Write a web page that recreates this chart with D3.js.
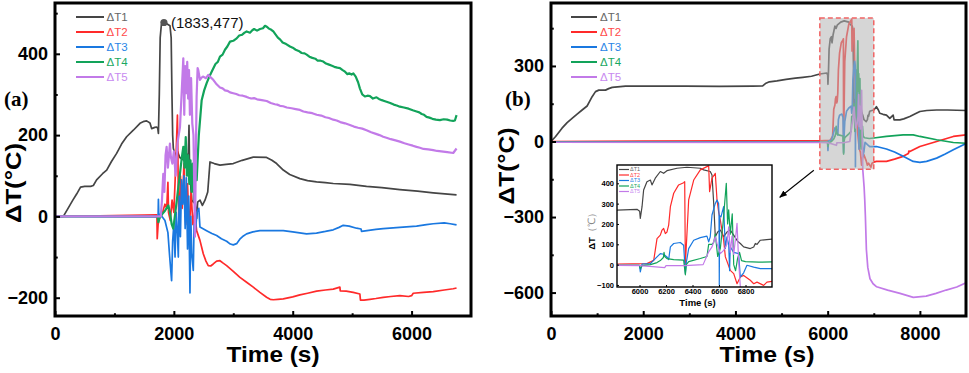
<!DOCTYPE html>
<html><head><meta charset="utf-8">
<script src="https://cdn.jsdelivr.net/npm/d3@7"></script>
<style>body{margin:0;background:#fff}svg{display:block}</style>
</head><body><svg id="c" width="969" height="373"></svg>
<script>
// ---------- data ----------
const seriesNames = ["ΔT1","ΔT2","ΔT3","ΔT4","ΔT5"];
const lineColors  = ["#454545","#ff2a2a","#1a78e0","#12a35a","#c27ae8"];
const textColors  = ["#666666","#ff4a4a","#2a85e6","#1aa862","#c88af0"];

const xTicksA = [0,2000,4000,6000], xMinorA = [1000,3000,5000,7000];
const yTicksA = [-200,0,200,400],   yMinorA = [-100,100,300,500];
const xTicksB = [0,2000,4000,6000,8000], xMinorB = [1000,3000,5000,7000,9000];
const yTicksB = [-600,-300,0,300],  yMinorB = [-450,-150,150,450];
const xTicksIn = [6000,6200,6400,6600,6800];
const yTicksIn = [-100,0,100,200,300,400];

const peakPoint = [1833,477];
const peakLabel = "(1833,477)";
const zoomWindow = {t0:5830, t1:7000, v0:-110, v1:490};

const a_T1 = [[0,0],[140,0],[200,15],[300,40],[364,55],[430,72],[500,74],[600,74],[645,76],[700,90],[800,105],[870,114],[950,135],[1037,155],[1120,178],[1205,196],[1318,212],[1430,229],[1500,234],[1542,235],[1598,230],[1626,216],[1680,219],[1710,220],[1730,216],[1740,204],[1755,300],[1770,440],[1790,472],[1833,477],[1880,474],[1935,469],[1955,439],[1968,300],[1980,200],[1991,168],[2019,151],[2060,160],[2100,145],[2150,140],[2200,150],[2243,154],[2255,224],[2262,145],[2275,95],[2300,40],[2330,35],[2360,32],[2384,-5],[2400,35],[2440,40],[2480,27],[2524,40],[2570,60],[2608,134],[2680,130],[2776,126],[2880,128],[3000,130],[3150,138],[3336,146],[3560,145],[3650,138],[3729,130],[3841,114],[3950,103],[4121,93],[4250,88],[4402,85],[4550,83],[4682,81],[4962,79],[5242,74],[5500,71],[5803,66],[6100,62],[6364,58],[6757,53]];
const a_T2 = [[0,0],[500,1],[1000,2],[1500,3],[1715,4],[1720,-55],[1735,-20],[1760,0],[1800,5],[1850,30],[1880,20],[1900,84],[1910,10],[1940,-10],[1970,40],[2000,10],[2030,120],[2060,249],[2075,60],[2090,-42],[2110,100],[2140,20],[2170,130],[2200,-20],[2230,80],[2260,-40],[2290,60],[2320,-20],[2350,10],[2383,-35],[2439,-59],[2495,-92],[2540,-110],[2579,-121],[2620,-122],[2663,-117],[2720,-110],[2776,-109],[2830,-115],[2888,-121],[3000,-135],[3112,-150],[3224,-162],[3336,-174],[3448,-187],[3560,-199],[3620,-204],[3673,-205],[3750,-204],[3841,-203],[4000,-198],[4121,-193],[4250,-189],[4402,-184],[4550,-181],[4682,-179],[4794,-174],[4800,-183],[4900,-184],[5018,-187],[5130,-191],[5140,-206],[5200,-206],[5300,-204],[5400,-202],[5523,-199],[5650,-197],[5803,-195],[5950,-197],[6000,-195],[6028,-189],[6200,-187],[6364,-185],[6550,-181],[6700,-178],[6757,-176]];
const a_T3 = [[0,0],[1700,-1],[1735,-1],[1740,42],[1748,-5],[1760,5],[1800,0],[1850,-10],[1900,-40],[1930,-100],[1962,-158],[1980,-60],[2000,-20],[2020,-100],[2040,10],[2060,-40],[2075,-100],[2090,50],[2110,-50],[2130,90],[2150,30],[2170,100],[2190,-30],[2210,95],[2230,-80],[2250,50],[2271,-188],[2285,0],[2300,-90],[2327,-133],[2340,-20],[2360,-40],[2390,10],[2420,20],[2439,-26],[2551,-35],[2640,-42],[2720,-47],[2800,-55],[2888,-61],[2950,-68],[3000,-70],[3056,-67],[3110,-56],[3170,-48],[3224,-43],[3330,-38],[3448,-35],[3600,-35],[3841,-35],[4000,-38],[4233,-43],[4400,-41],[4550,-37],[4682,-33],[4780,-27],[4850,-22],[4950,-24],[5074,-29],[5150,-31],[5158,-37],[5250,-35],[5400,-32],[5523,-30],[5800,-27],[6084,-24],[6250,-20],[6364,-18],[6550,-16],[6650,-18],[6757,-21]];
const a_T4 = [[0,0],[1730,0],[1739,-14],[1760,-4],[1800,5],[1851,14],[1907,27],[1935,10],[1963,-19],[1990,-30],[2019,3],[2050,40],[2075,72],[2103,105],[2130,140],[2159,171],[2180,120],[2200,195],[2220,100],[2240,150],[2260,80],[2280,138],[2300,60],[2320,130],[2340,40],[2360,105],[2384,89],[2420,200],[2468,286],[2510,310],[2552,328],[2600,345],[2636,356],[2700,375],[2740,380],[2776,393],[2820,398],[2860,410],[2900,418],[2945,430],[3000,432],[3057,438],[3100,445],[3150,447],[3190,452],[3225,455],[3281,452],[3320,458],[3350,461],[3400,457],[3450,461],[3500,463],[3534,469],[3570,466],[3600,462],[3640,459],[3674,455],[3710,448],[3750,440],[3790,435],[3830,428],[3890,424],[3954,418],[4000,415],[4050,410],[4100,407],[4150,402],[4200,401],[4235,398],[4280,393],[4330,390],[4380,388],[4420,383],[4470,383],[4515,381],[4560,376],[4600,374],[4650,371],[4700,368],[4750,366],[4795,365],[4840,360],[4880,356],[4920,350],[4950,352],[4990,349],[5020,352],[5060,344],[5100,330],[5130,315],[5170,300],[5214,295],[5260,297],[5300,296],[5350,290],[5410,293],[5450,289],[5500,286],[5540,284],[5579,282],[5640,279],[5700,275],[5750,273],[5803,270],[5870,268],[5950,265],[6020,261],[6084,258],[6130,256],[6170,252],[6210,250],[6252,245],[6300,243],[6350,240],[6410,238],[6476,237],[6540,239],[6600,238],[6650,236],[6700,235],[6729,236],[6757,249]];
const a_T5 = [[0,0],[1780,0],[1800,40],[1822,105],[1840,60],[1860,150],[1878,171],[1900,120],[1934,179],[1950,146],[1975,130],[2000,160],[2030,100],[2060,180],[2103,220],[2130,300],[2159,389],[2175,250],[2190,370],[2210,303],[2225,380],[2240,290],[2255,360],[2270,250],[2290,340],[2310,229],[2330,200],[2340,100],[2355,-50],[2370,150],[2383,295],[2400,365],[2411,360],[2439,336],[2470,342],[2495,344],[2540,340],[2579,348],[2620,342],[2663,336],[2720,325],[2776,317],[2820,315],[2860,310],[2900,309],[2945,305],[3000,303],[3050,301],[3100,298],[3160,297],[3225,294],[3260,292],[3300,290],[3350,291],[3400,288],[3480,286],[3562,284],[3630,279],[3700,276],[3740,275],[3786,272],[3840,271],[3900,268],[3980,266],[4050,264],[4121,262],[4180,258],[4250,256],[4330,254],[4403,250],[4480,248],[4550,244],[4610,242],[4682,238],[4740,236],[4800,232],[4880,229],[4962,225],[5030,221],[5100,218],[5170,216],[5242,212],[5320,207],[5400,203],[5460,200],[5523,196],[5590,193],[5650,190],[5730,187],[5803,184],[5880,180],[5950,177],[6020,174],[6084,171],[6140,169],[6200,166],[6280,165],[6364,163],[6430,161],[6500,160],[6600,158],[6701,156],[6757,167]];

const b_T1 = [[0,0],[100,20],[239,53],[350,75],[457,92],[560,108],[675,125],[783,141],[840,160],[892,178],[965,198],[1037,204],[1182,204],[1250,210],[1327,215],[1617,220],[2198,220],[2923,220],[3648,219],[4373,220],[4591,221],[4650,230],[4736,237],[4900,241],[5099,247],[5300,252],[5462,255],[5650,259],[5830,268],[5981,272],[6001,263],[6006,227],[6019,285],[6031,367],[6056,408],[6082,416],[6094,392],[6119,425],[6157,458],[6182,449],[6207,462],[6283,474],[6358,479],[6459,474],[6484,466],[6534,458],[6547,441],[6560,301],[6572,137],[6590,160],[6610,170],[6635,137],[6660,160],[6685,170],[6711,145],[6740,115],[6761,104],[6786,87],[6836,79],[6862,87],[6874,104],[6887,100],[6912,120],[6960,123],[7000,125],[7057,138],[7100,125],[7130,112],[7200,108],[7275,105],[7347,92],[7380,98],[7420,105],[7440,86],[7500,86],[7565,86],[7650,90],[7782,99],[7900,110],[8000,119],[8150,123],[8363,125],[8600,125],[9000,123]];
const b_T2 = [[0,0],[2000,2],[4000,3],[5830,3],[6056,5],[6107,21],[6119,71],[6132,128],[6157,145],[6170,170],[6182,178],[6195,153],[6207,160],[6220,194],[6233,285],[6258,351],[6295,392],[6333,403],[6341,408],[6346,5],[6353,87],[6371,318],[6409,416],[6459,466],[6509,482],[6522,486],[6529,359],[6547,425],[6572,449],[6585,318],[6597,260],[6610,219],[6635,120],[6648,38],[6685,-28],[6711,-44],[6736,-94],[6761,-61],[6786,-53],[6836,-77],[6862,-94],[6887,-86],[6937,-102],[6962,-86],[7000,-82],[7057,-79],[7275,-79],[7450,-70],[7637,-59],[7750,-48],[7760,-38],[7782,-40],[8000,-20],[8363,0],[8725,20],[9000,26]];
const b_T3 = [[0,-2],[5830,-3],[5999,-3],[6006,-36],[6019,3],[6082,5],[6132,38],[6157,54],[6182,51],[6207,38],[6220,25],[6233,87],[6258,104],[6308,109],[6333,95],[6346,-44],[6353,10],[6371,79],[6409,120],[6459,133],[6509,140],[6522,112],[6534,137],[6547,244],[6572,301],[6585,318],[6597,301],[6600,250],[6602,-100],[6605,240],[6615,235],[6635,285],[6640,200],[6648,80],[6660,137],[6673,100],[6680,-30],[6685,87],[6711,60],[6748,54],[6761,-61],[6774,-50],[6786,-40],[6811,-3],[6862,-12],[6912,-20],[7000,-20],[7057,-20],[7275,-30],[7450,-42],[7637,-59],[7855,-79],[8000,-83],[8145,-79],[8363,-66],[8550,-50],[8725,-33],[9000,-8]];
const b_T4 = [[0,-2],[5830,-3],[5999,-3],[6006,-20],[6019,-5],[6082,0],[6132,10],[6157,20],[6180,35],[6185,60],[6190,40],[6207,30],[6258,25],[6333,22],[6346,-50],[6353,0],[6371,15],[6459,30],[6509,40],[6522,100],[6547,100],[6560,110],[6572,150],[6590,40],[6610,80],[6630,200],[6655,400],[6665,200],[6673,270],[6685,150],[6700,250],[6711,0],[6725,-30],[6740,30],[6755,60],[6770,20],[6800,15],[6900,12],[7000,14],[7275,20],[7637,26],[7855,26],[8000,20],[8363,7],[8725,-4],[9000,-7]];
const b_T5 = [[0,-3],[5830,-4],[6000,-5],[6100,-10],[6190,-15],[6200,-5],[6340,-5],[6480,0],[6522,63],[6547,87],[6572,137],[6585,104],[6610,54],[6635,70],[6660,100],[6673,186],[6685,60],[6698,140],[6711,50],[6723,120],[6736,203],[6748,21],[6761,-110],[6790,-180],[6804,-231],[6818,-297],[6840,-430],[6870,-500],[6918,-545],[6985,-565],[7063,-577],[7300,-590],[7569,-603],[7857,-619],[8136,-614],[8350,-603],[8570,-590],[8800,-578],[9000,-561]];

const seriesA = [a_T1,a_T2,a_T3,a_T4,a_T5];
const seriesB = [b_T1,b_T2,b_T3,b_T4,b_T5];

// ---------- drawing ----------
const FONT = "'Liberation Sans', Arial, sans-serif";
const SERIF = "'Liberation Serif', 'Times New Roman', serif";
const fmt = d3.format("d");
const svg = d3.select("#c");
const defs = svg.append("defs");

function drawPanel(p){
  const g = svg.append("g");
  const xs = d3.scaleLinear().domain(p.xDomain).range([p.left,p.right]);
  const ys = d3.scaleLinear().domain(p.yDomain).range([p.bottom,p.top]);
  defs.append("clipPath").attr("id","clip-"+p.id).append("rect")
    .attr("x",p.left).attr("y",p.top).attr("width",p.right-p.left).attr("height",p.bottom-p.top);
  if(p.bg) g.append("rect").attr("x",p.left).attr("y",p.top).attr("width",p.right-p.left).attr("height",p.bottom-p.top).attr("fill","#fff");
  const line = d3.line().x(d=>xs(d[0])).y(d=>ys(d[1]));
  const lg = g.append("g").attr("clip-path","url(#clip-"+p.id+")");
  p.series.forEach((s,i)=>{
    lg.append("path").attr("d",line(s)).attr("fill","none").attr("stroke",lineColors[i])
      .attr("stroke-width",(p.lws && p.lws[i]) || p.lw).attr("stroke-linejoin","round");
  });
  const styleAxis = (a,fs)=>{
    a.select(".domain").remove();
    a.selectAll("text").attr("font-family",FONT).attr("font-weight","bold").attr("font-size",fs).attr("fill","#000");
    a.selectAll("line").attr("stroke","#000").attr("stroke-width",p.tickW);
  };
  g.append("g").attr("transform",`translate(0,${p.bottom})`)
    .call(d3.axisBottom(xs).tickValues(p.xMajor).tickFormat(fmt).tickSizeInner(-p.tickLen).tickSizeOuter(0).tickPadding(p.xPad))
    .call(a=>styleAxis(a,p.fs));
  g.append("g").attr("transform",`translate(${p.left},0)`)
    .call(d3.axisLeft(ys).tickValues(p.yMajor).tickFormat(fmt).tickSizeInner(-p.tickLen).tickSizeOuter(0).tickPadding(p.yPad))
    .call(a=>styleAxis(a,p.fs));
  if(p.xMinor){
    g.append("g").attr("transform",`translate(0,${p.bottom})`)
      .call(d3.axisBottom(xs).tickValues(p.xMinor.filter(v=>v<p.xDomain[1])).tickSizeInner(-p.tickLen*0.55).tickSizeOuter(0).tickFormat(""))
      .call(a=>styleAxis(a,p.fs));
    g.append("g").attr("transform",`translate(${p.left},0)`)
      .call(d3.axisLeft(ys).tickValues(p.yMinor.filter(v=>v<p.yDomain[1])).tickSizeInner(-p.tickLen*0.55).tickSizeOuter(0).tickFormat(""))
      .call(a=>styleAxis(a,p.fs));
  }
  return {g,xs,ys,lg};
}

function frame(p, w){
  svg.append("rect").attr("x",p.left).attr("y",p.top).attr("width",p.right-p.left).attr("height",p.bottom-p.top)
    .attr("fill","none").attr("stroke","#000").attr("stroke-width",w);
}

function legend(x0,x1,tx,rows,fs,lw){
  seriesNames.forEach((n,i)=>{
    svg.append("line").attr("x1",x0).attr("x2",x1).attr("y1",rows[i]).attr("y2",rows[i])
      .attr("stroke",lineColors[i]).attr("stroke-width",lw);
    svg.append("text").attr("x",tx).attr("y",rows[i]).attr("dy","0.36em").attr("font-family",FONT)
      .attr("font-size",fs).attr("fill",textColors[i]).text(n);
  });
}

function titles(cx, cy, len, xTitleX, xTitleLen, tag, tagX){
  svg.append("text").attr("transform",`translate(${cx},${cy}) rotate(-90)`).attr("text-anchor","middle")
    .attr("font-family",FONT).attr("font-weight","bold").attr("font-size",22)
    .attr("textLength",len).attr("lengthAdjust","spacingAndGlyphs").text("ΔT(°C)");
  svg.append("text").attr("x",xTitleX).attr("y",362).attr("text-anchor","middle")
    .attr("font-family",FONT).attr("font-weight","bold").attr("font-size",22)
    .attr("textLength",xTitleLen).attr("lengthAdjust","spacingAndGlyphs").text("Time (s)");
  svg.append("text").attr("x",tagX).attr("y",106).attr("font-family",SERIF).attr("font-weight","bold")
    .attr("font-size",21).text(tag);
}

// Panel (a)
const PA = {id:"a",left:55,right:471,top:3,bottom:316,xDomain:[0,7000],yDomain:[-245,525],
  xMajor:xTicksA,xMinor:xMinorA,yMajor:yTicksA,yMinor:yMinorA,series:seriesA,lw:1.7,lws:[1.7,1.7,1.7,2.2,2.2],tickW:2,tickLen:5,fs:18,xPad:11,yPad:7};
const A = drawPanel(PA);
A.lg.append("circle").attr("cx",A.xs(peakPoint[0])).attr("cy",A.ys(peakPoint[1])).attr("r",3.6).attr("fill","#555");
svg.append("text").attr("x",A.xs(peakPoint[0])+7).attr("y",A.ys(peakPoint[1])+5).attr("font-family",FONT)
  .attr("font-size",15).attr("fill","#111").text(peakLabel);
frame(PA,3);
legend(76,104,106.5,[17,32,47,62,77],11.5,2);
titles(21,183,80,273,93,"(a)",4);

// Panel (b)
const PB = {id:"b",left:551,right:966,top:3,bottom:316,xDomain:[0,9000],yDomain:[-693,550],
  xMajor:xTicksB,xMinor:xMinorB,yMajor:yTicksB,yMinor:yMinorB,series:seriesB,lw:1.7,tickW:2,tickLen:5,fs:18,xPad:11,yPad:7};
const B = drawPanel(PB);
const zx0=B.xs(zoomWindow.t0), zx1=B.xs(zoomWindow.t1), zy0=B.ys(zoomWindow.v1), zy1=B.ys(zoomWindow.v0);
svg.append("rect").attr("x",zx0).attr("y",zy0).attr("width",zx1-zx0).attr("height",zy1-zy0)
  .attr("fill","#b4b4b4").attr("fill-opacity",0.55);
svg.append("rect").attr("x",zx0).attr("y",zy0).attr("width",zx1-zx0).attr("height",zy1-zy0)
  .attr("fill","none").attr("stroke","#f06464").attr("stroke-width",1.5).attr("stroke-dasharray","5,3");
frame(PB,3);
legend(571,597,600,[17,32,47,62,77],11.5,2);
titles(514,166,77,767,95,"(b)",505);

// arrow
defs.append("marker").attr("id","arr").attr("viewBox","0 0 10 10").attr("refX",9).attr("refY",5)
  .attr("markerWidth",7).attr("markerHeight",7).attr("orient","auto")
  .append("path").attr("d","M0,1 L10,5 L0,9 Z").attr("fill","#000");
svg.append("line").attr("x1",zx0-6).attr("y1",zy1+1).attr("x2",zx0-40).attr("y2",zy1+28)
  .attr("stroke","#000").attr("stroke-width",1.1).attr("marker-end","url(#arr)");

// Inset
const PI = {id:"in",left:617,right:772,top:165,bottom:287,xDomain:[zoomWindow.t0,zoomWindow.t1],yDomain:[zoomWindow.v0,zoomWindow.v1],
  xMajor:xTicksIn,yMajor:yTicksIn,series:seriesB,lw:1.2,tickW:1,tickLen:2,fs:7.5,xPad:2,yPad:3,bg:true};
const I = drawPanel(PI);
frame(PI,1.4);
legend(619,629,630,[169.5,175,180.5,186,191.5],5.5,1.2);
svg.append("text").attr("x",(PI.left+PI.right)/2+3).attr("y",306).attr("text-anchor","middle")
  .attr("font-family",FONT).attr("font-weight","bold").attr("font-size",9.5).text("Time (s)");
const yt = svg.append("text").attr("transform","translate(595,229) rotate(-90)").attr("text-anchor","middle")
  .attr("font-family",FONT).attr("font-size",9.5);
yt.append("tspan").attr("font-weight","bold").attr("fill","#000").text("ΔT");
yt.append("tspan").attr("fill","#888").text("（℃）");
</script></body></html>
